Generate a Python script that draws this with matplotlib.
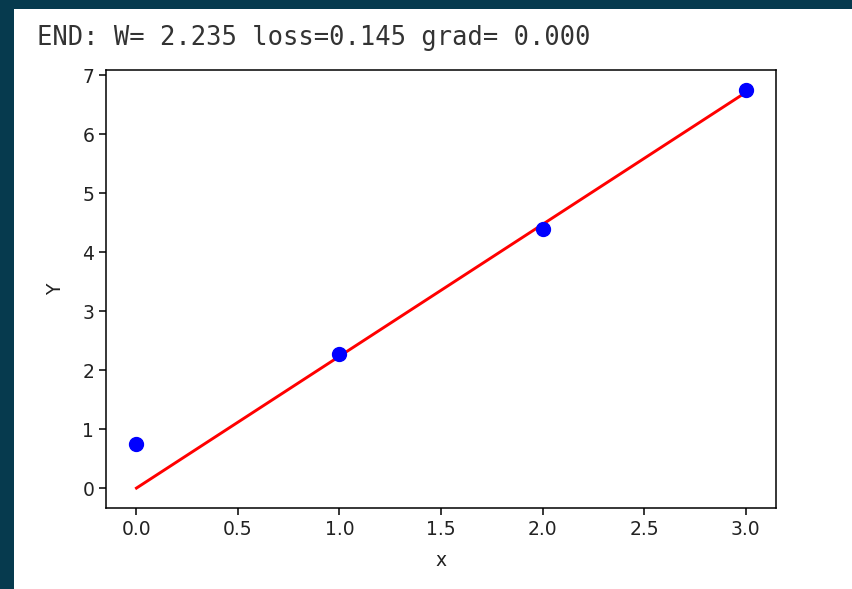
import numpy as np
import matplotlib.pyplot as plt
from matplotlib.patches import Rectangle

# data
x_data = [0.0, 1.0, 2.0, 3.0]
y_data = [0.75, 2.28, 4.40, 6.75]
w = 2.235
loss = 0.145
grad = 0.000

fig = plt.figure(figsize=(8.53, 5.89), dpi=100)
fig.patch.set_facecolor("#063a4e")

# white notebook panel behind everything
fig.patches.append(Rectangle((14 / 853, 0), 1, 1 - 9 / 589, transform=fig.transFigure,
                             facecolor="white", edgecolor="none", zorder=-10))

# printed output line above the plot
fig.text(37 / 853, 1 - 38 / 589, "END: W= %.3f loss=%.3f grad= %.3f" % (w, loss, grad),
         family="DejaVu Sans Mono", fontsize=18.4, color="#333333", va="center", ha="left")

ax = fig.add_axes([106 / 853, 81 / 589, 670 / 853, 438 / 589])
xs = np.array(x_data)
ax.scatter(x_data, y_data, s=100, color="blue", zorder=3)
ax.plot(xs, w * xs, color="red", linewidth=2.1)

ax.set_xlabel("x", fontsize=13.5, labelpad=9, color="#222222")
ax.set_ylabel("Y", fontsize=13.5, labelpad=12, color="#222222")
ax.tick_params(labelsize=13.5, length=5, width=1.1, labelcolor="#222222")
for s in ax.spines.values():
    s.set_linewidth(1.1)

fig.savefig("out.png", dpi=100, facecolor=fig.get_facecolor())
